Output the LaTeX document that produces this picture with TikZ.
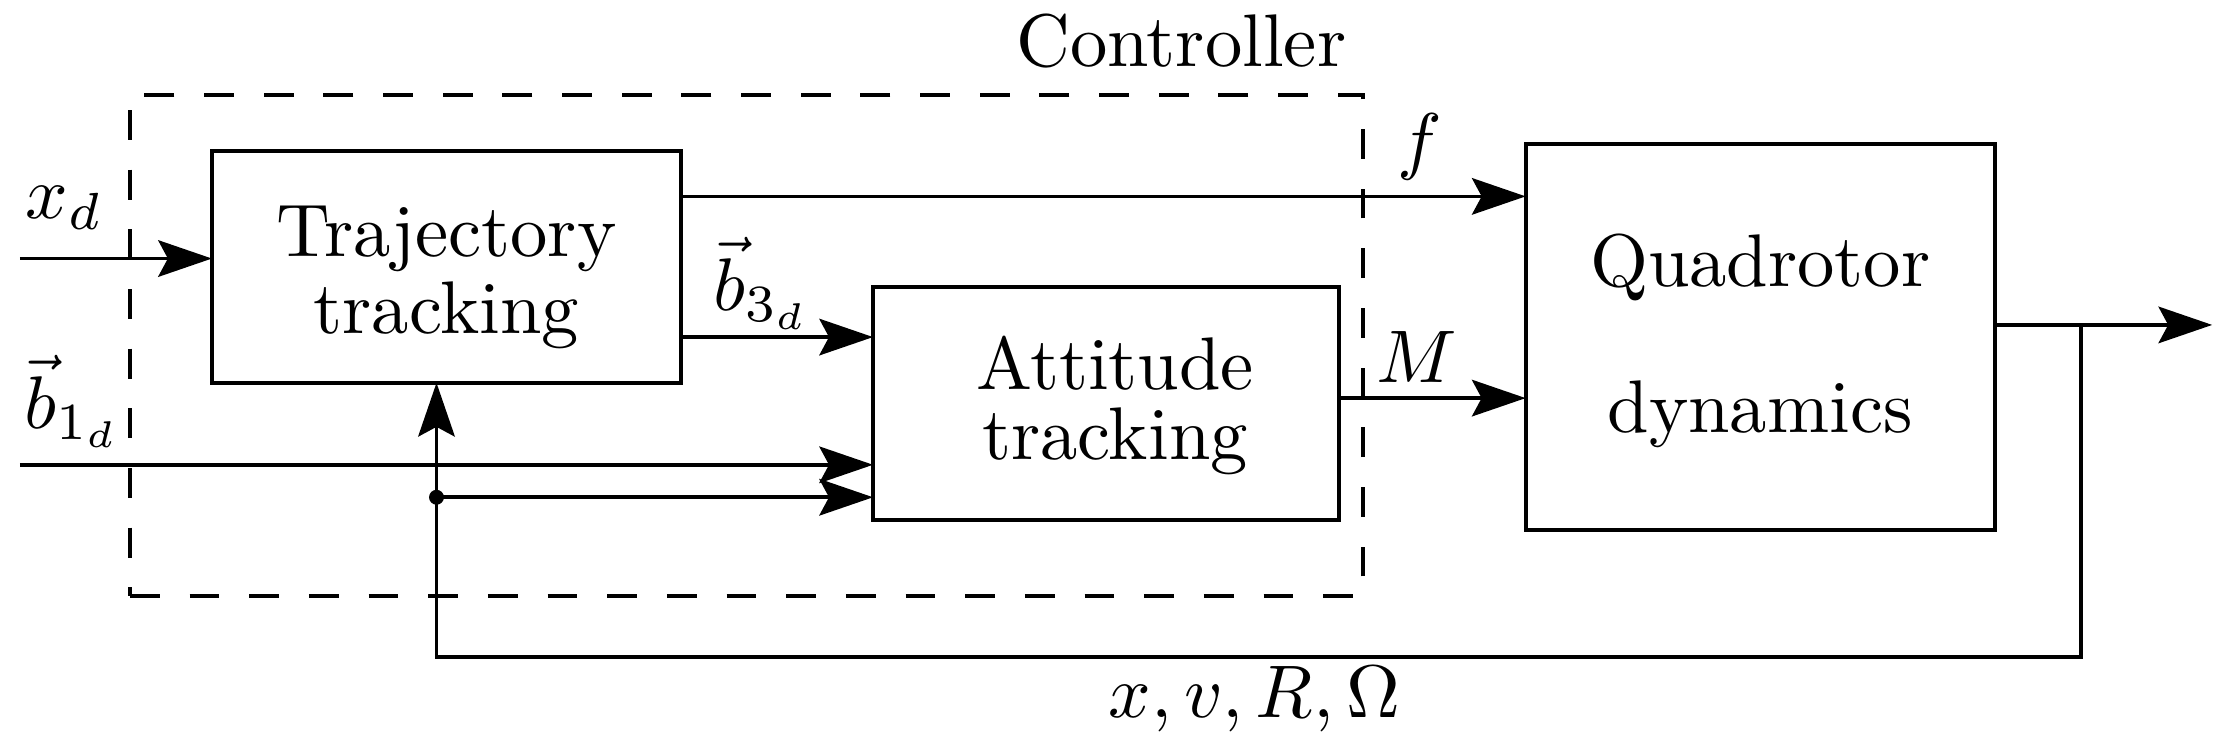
\documentclass[tikz,border=0pt]{standalone}
\usetikzlibrary{arrows.meta}
\begin{document}
\begin{tikzpicture}[x=0.1894pt,y=-0.1894pt,line width=0.5pt,
  blockbox/.style={draw,inner sep=0pt,outer sep=0pt,align=center,font=\normalsize},
  ctrlbox/.style={draw,dash pattern=on 4pt off 4pt,inner sep=0pt,outer sep=0pt},
  arr/.style={-{Stealth[length=7.2pt,width=4.9pt,inset=1.3pt]}},
  lbl/.style={inner sep=0pt,outer sep=0pt}]
\useasboundingbox (0,0) rectangle (1568,525);

% controller frame
\node[ctrlbox,minimum width=165.35pt,minimum height=67.24pt] (ctrl) at (528.5,244.5) {};
\node[lbl,anchor=base east] (ctl) at (953,47) {Controller};

% blocks
\node[blockbox,minimum width=62.88pt,minimum height=31.06pt] (traj) at (316,189)
  {\rule{0pt}{9.6pt}Trajectory\\[-1.6pt]tracking};
\node[blockbox,minimum width=62.5pt,minimum height=31.25pt] (att) at (783,285.5)
  {\rule{0pt}{7.7pt}\hspace*{2.4pt}Attitude\\[-2.6pt]\hspace*{2.4pt}tracking};
\node[blockbox,minimum width=62.88pt,minimum height=51.7pt] (quad) at (1246,238.5)
  {\rule{0pt}{8.1pt}Quadrotor\\[7.6pt]dynamics};

% helper coordinates
\coordinate (xdin) at (14,183);
\coordinate (b1in) at (14,329);
\coordinate (fy) at (0,139);
\coordinate (b3y) at (0,238.6);
\coordinate (my) at (0,281.8);
\coordinate (outend) at (1566,230);
\coordinate (fbtap) at (1473,230);
\coordinate (fbx) at (309,465);
\coordinate (jn) at (309,352);

% connectors
\draw[arr] (xdin) -- (xdin -| traj.west);
\draw[arr] (b1in) -- (b1in -| att.west);
\draw[arr] (traj.east |- fy) -- (quad.west |- fy);
\draw[arr] (traj.east |- b3y) -- (att.west |- b3y);
\draw[arr] (att.east |- my) -- (quad.west |- my);
\draw[arr] (quad.east |- outend) -- (outend);
\draw[arr] (fbtap) |- (fbx) -- (fbx |- traj.south);
\fill (jn) circle (1pt);
\draw[arr] (jn) -- (jn -| att.west);

% labels
\node[lbl,anchor=base west] (xdl) at (18,154.6) {$x_d$};
\node[lbl,anchor=base west] (b1l) at (17,303) {$\vec b_{1_d}$};
\node[lbl,anchor=base west] (b3l) at (505,219.6) {$\vec b_{3_d}$};
\node[lbl,anchor=base] (fl) at (1005,117) {$f$};
\node[lbl,anchor=base] (ml) at (1003,271) {$M$};
\node[lbl,anchor=base] (sl) at (888,508) {$x, v, R, \Omega$};
\end{tikzpicture}
\end{document}
